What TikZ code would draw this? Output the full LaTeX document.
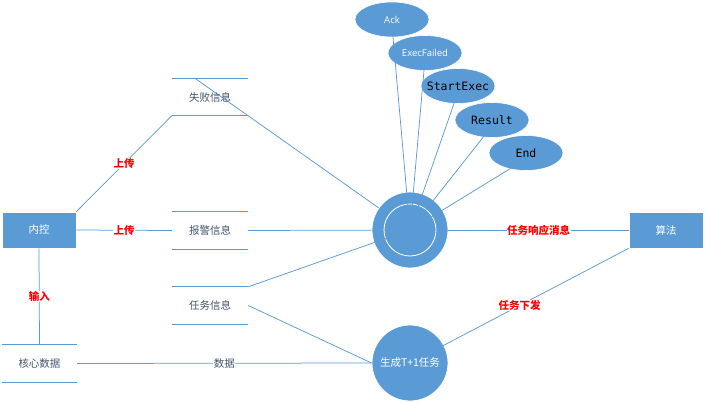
\documentclass[tikz,border=0pt]{standalone}
\usepackage{fontspec}
\setmainfont{Noto Sans CJK SC}
\newfontfamily\latinsans{Open Sans}
\newfontfamily\monof{DejaVu Sans Mono}
\usetikzlibrary{shapes.geometric,calc}
\definecolor{blu}{HTML}{5B9BD5}
\definecolor{slate}{HTML}{44546A}
\pgfdeclarelayer{bg}
\pgfsetlayers{bg,main}
\begin{document}
\begin{tikzpicture}[x=1pt,y=-1pt,
  box/.style={draw=white, line width=0.6pt, fill=blu, minimum width=74pt, minimum height=36pt, inner sep=0pt, text=white, font=\fontsize{10.5}{12}\selectfont},
  proc/.style={circle, draw=white, line width=0.8pt, fill=blu, minimum size=76pt, inner sep=0pt, text=white, font=\fontsize{10.5}{12}\selectfont},
  msg/.style={ellipse, draw=white, line width=0.6pt, fill=blu, minimum width=74pt, minimum height=35pt, inner sep=0pt},
  store/.style={minimum width=76pt, minimum height=37pt, inner sep=0pt, text=slate, font=\fontsize{10.5}{12}\selectfont},
  storeline/.style={draw=blu, line width=1.1pt},
  conn/.style={draw=blu, line width=0.75pt},
  lab/.style={text=red, font=\bfseries\fontsize{10.5}{12}\selectfont, fill=white, inner sep=0.5pt},
  plainlab/.style={text=slate, font=\fontsize{10.5}{12}\selectfont, fill=white, inner sep=0.5pt},
  whitemsg/.style={text=white, font=\latinsans\fontsize{9.5}{11}\selectfont},
  monomsg/.style={text=black, font=\monof\fontsize{11.5}{13}\selectfont}
]
\useasboundingbox (0,0) rectangle (705,402);

% main nodes
\node[box] (nk) at (39,230) {内控};
\node[box] (sf) at (666,230) {算法};
\node[proc] (c1) at (410,230) {};
\node[proc] (c2) at (410,363) {};

% data stores
\node[store] (f) at (210,97) {失败信息};
\node[store] (b) at (210,230.5) {报警信息};
\node[store] (t) at (210,305.5) {任务信息};
\node[store, minimum width=75pt] (h) at (39.5,363.5) {核心数据};
\foreach \s in {f,b,t,h}{
  \draw[storeline] (\s.north west) -- (\s.north east);
  \draw[storeline] (\s.south west) -- (\s.south east);
}

% message ellipses
\node[msg] (ack) at (392,19.5) {};
\node[msg] (ef) at (425,53) {};
\node[msg] (se) at (458,86) {};
\node[msg] (rs) at (492,120) {};
\node[msg] (en) at (526,153) {};

% inner ring of central process
\draw[white, line width=0.8pt] (c1.center) circle (26);

% connectors behind shapes
\begin{pgfonlayer}{bg}
  \draw[conn] ([xshift=-15pt]f.north) -- (c1.center);
  \draw[conn] (b.east) -- (c1.center);
\end{pgfonlayer}

% connectors on top
\draw[conn] (t.north east) -- (c1.center);
\draw[conn] (t.east) -- (c2.west);
\foreach \m in {ack,ef,se,rs,en}{
  \draw[conn] ([yshift=-6pt]\m.center) -- (c1.center);
}
\draw[conn] (nk.north east) -- node[lab] {上传} (f.south west);
\draw[conn] (nk.east) -- node[lab] {上传} (b.west);
\draw[conn] (nk.south) -- node[lab] {输入} (h.north);
\draw[conn] (h.east) -- node[plainlab] {数据} (c2.west);
\draw[conn] (c1.east) -- node[lab] {任务响应消息} (sf.west);
\draw[conn] (sf.south west) -- node[lab, pos=0.53] {任务下发} ($(sf.south west)!0.94!(c2.center)$);

% texts over shapes
\node[whitemsg] at (ack.center) {Ack};
\node[whitemsg] at (ef.center) {ExecFailed};
\node[monomsg] at (se.center) {StartExec};
\node[monomsg] at (rs.center) {Result};
\node[monomsg] at (en.center) {End};
\node[text=white, font=\fontsize{10.5}{12}\selectfont] (c2t) at (c2.center) {生成T+1任务};
\end{tikzpicture}
\end{document}
